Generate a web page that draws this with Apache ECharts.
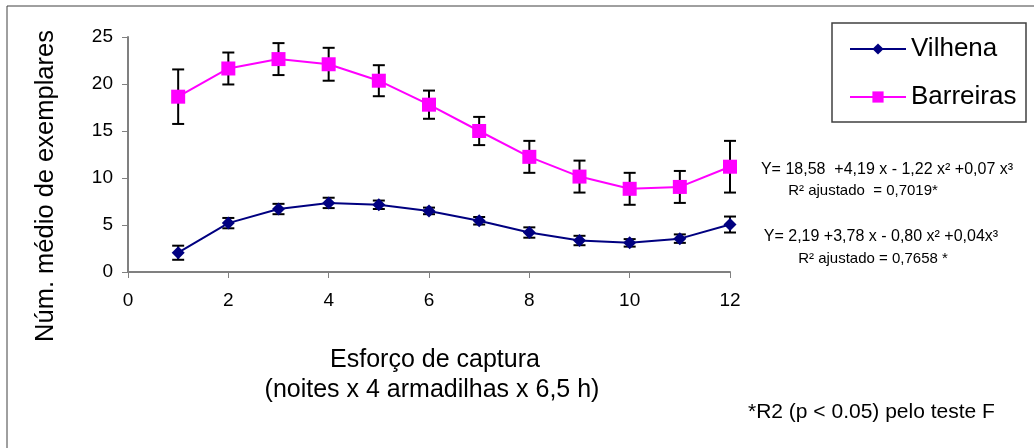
<!DOCTYPE html>
<html>
<head>
<meta charset="utf-8">
<script src="https://cdn.jsdelivr.net/npm/echarts@6/dist/echarts.min.js"></script>
<style>
  html, body { margin: 0; padding: 0; background: #fff; }
  #chart { width: 1034px; height: 448px; }
</style>
</head>
<body>
<div id="chart"></div>
<script>
// esforço de captura (1..12)
var esforco = [1, 2, 3, 4, 5, 6, 7, 8, 9, 10, 11, 12]
// médias e erros
var vilhena = [2.05, 5.2, 6.7, 7.35, 7.15, 6.5, 5.45, 4.2, 3.35, 3.1, 3.55, 5.05]
var vilhenaErro = [0.75, 0.55, 0.55, 0.55, 0.45, 0.35, 0.4, 0.55, 0.5, 0.4, 0.45, 0.85]
var barreiras = [18.65, 21.65, 22.65, 22.1, 20.35, 17.8, 15.0, 12.25, 10.15, 8.85, 9.05, 11.2]
var barreirasErro = [2.9, 1.7, 1.7, 1.75, 1.65, 1.5, 1.5, 1.7, 1.7, 1.7, 1.7, 2.75]
var xTicks = { min: 0, max: 12, interval: 2 }
var yTicks = { min: 0, max: 25, interval: 5 }

var fonte = 'Liberation Sans, Arial, sans-serif'

function pares (ys) {
  return esforco.map(function (x, i) { return [x, ys[i]] })
}
function barras (ys, errs) {
  return esforco.map(function (x, i) { return [x, ys[i] - errs[i], ys[i] + errs[i]] })
}

function desenhaErro (params, api) {
  var x = api.value(0)
  var lo = api.coord([x, api.value(1)])
  var hi = api.coord([x, api.value(2)])
  var w = 6
  var st = { stroke: '#000', lineWidth: 2 }
  return {
    type: 'group',
    children: [
      { type: 'line', shape: { x1: lo[0], y1: lo[1], x2: hi[0], y2: hi[1] }, style: st },
      { type: 'line', shape: { x1: lo[0] - w, y1: lo[1], x2: lo[0] + w, y2: lo[1] }, style: st },
      { type: 'line', shape: { x1: hi[0] - w, y1: hi[1], x2: hi[0] + w, y2: hi[1] }, style: st }
    ]
  }
}

function texto (t, x, y, size, align) {
  return {
    type: 'text', x: x, y: y,
    style: { text: t, fontSize: size, fontFamily: fonte, fill: '#000', align: align || 'center', verticalAlign: 'middle' }
  }
}

var chart = echarts.init(document.getElementById('chart'))
var option = {
  animation: false,
  textStyle: { fontFamily: fonte },
  grid: { left: 128, right: 304, top: 37, bottom: 176 },
  xAxis: {
    type: 'value',
    min: xTicks.min,
    max: xTicks.max,
    interval: xTicks.interval,
    axisLine: { lineStyle: { color: '#808080', width: 2 } },
    axisTick: { show: true, length: 6, lineStyle: { color: '#808080', width: 1 } },
    axisLabel: { color: '#000', fontSize: 19, margin: 19, fontFamily: fonte },
    splitLine: { show: false }
  },
  yAxis: {
    type: 'value',
    min: yTicks.min,
    max: yTicks.max,
    interval: yTicks.interval,
    axisLine: { show: true, lineStyle: { color: '#808080', width: 2 } },
    axisTick: { show: true, length: 6, lineStyle: { color: '#808080', width: 1 } },
    axisLabel: { color: '#000', fontSize: 19, margin: 15, fontFamily: fonte },
    splitLine: { show: false }
  },
  legend: {
    orient: 'vertical',
    left: 849,
    top: 36,
    padding: 0,
    itemWidth: 56,
    itemHeight: 14,
    itemGap: 22,
    textStyle: { fontSize: 26, color: '#000', lineHeight: 26, fontFamily: fonte },
    data: ['Vilhena', 'Barreiras']
  },
  graphic: [
    { type: 'rect', shape: { x: 7, y: 6, width: 1040, height: 460 }, style: { fill: 'none', stroke: '#404040', lineWidth: 1 }, z: -1 },
    { type: 'rect', shape: { x: 832, y: 23, width: 194, height: 99 }, style: { fill: 'none', stroke: '#404040', lineWidth: 1.5 } },
    { type: 'text', x: 46, y: 186, rotation: Math.PI / 2,
      style: { text: 'Núm. médio de exemplares', fontSize: 25.5, fontFamily: fonte, fill: '#000', align: 'center', verticalAlign: 'middle' } },
    texto('Esforço de captura', 435, 360, 25),
    texto('(noites x 4 armadilhas x 6,5 h)', 432, 390, 25),
    texto('Y= 18,58  +4,19 x - 1,22 x² +0,07 x³', 887, 170, 16),
    texto('R² ajustado  = 0,7019*', 863, 191, 15),
    texto('Y= 2,19 +3,78 x - 0,80 x² +0,04x³', 881, 237, 16),
    texto('R² ajustado = 0,7658 *', 873, 259, 15),
    texto('*R2 (p < 0.05) pelo teste F', 748, 412, 21, 'left')
  ],
  series: [
    {
      type: 'custom',
      name: 'erroV',
      renderItem: desenhaErro,
      data: barras(vilhena, vilhenaErro),
      z: 1
    },
    {
      type: 'custom',
      name: 'erroB',
      renderItem: desenhaErro,
      data: barras(barreiras, barreirasErro),
      z: 1
    },
    {
      name: 'Vilhena',
      type: 'line',
      data: pares(vilhena),
      symbol: 'diamond',
      symbolSize: 13,
      lineStyle: { color: '#000080', width: 2 },
      itemStyle: { color: '#000080' },
      z: 3
    },
    {
      name: 'Barreiras',
      type: 'line',
      data: pares(barreiras),
      symbol: 'rect',
      symbolSize: 14,
      lineStyle: { color: '#FF00FF', width: 2 },
      itemStyle: { color: '#FF00FF' },
      z: 3
    }
  ]
}
chart.setOption(option)
</script>
</body>
</html>
